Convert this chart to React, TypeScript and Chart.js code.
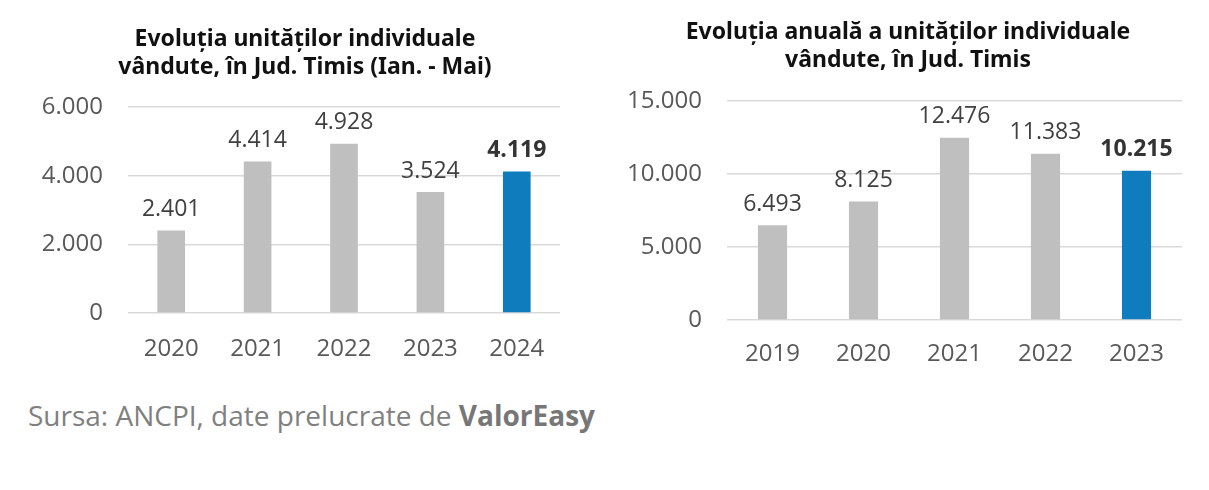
import React, { useEffect, useRef } from "react";
import { Chart, registerables } from "chart.js";

Chart.register(...registerables);

const leftCategories = ["2020", "2021", "2022", "2023", "2024"];
const leftValues = [2401, 4414, 4928, 3524, 4119];
const leftTicks = [0, 2000, 4000, 6000];

const rightCategories = ["2019", "2020", "2021", "2022", "2023"];
const rightValues = [6493, 8125, 12476, 11383, 10215];
const rightTicks = [0, 5000, 10000, 15000];

const leftTitle = ["Evoluția unităților individuale", "vândute, în Jud. Timis (Ian. - Mai)"];
const rightTitle = ["Evoluția anuală a unităților individuale", "vândute, în Jud. Timis"];

const GRAY = "#bfbfbf";
const BLUE = "#0f7dbd";
const TICK_FONT = "'Open Sans', sans-serif";
const TITLE_FONT = "'Noto Sans', sans-serif";

function fmt(v: number): string {
  const s = Math.round(v).toString();
  return s.replace(/\B(?=(\d{3})+(?!\d))/g, ".");
}

const labelPlugin = {
  id: "barLabels",
  afterDatasetsDraw(chart: any) {
    const ctx = chart.ctx;
    const meta = chart.getDatasetMeta(0);
    const data = chart.data.datasets[0].data as number[];
    const n = data.length;
    meta.data.forEach((el: any, i: number) => {
      const last = i === n - 1;
      ctx.save();
      ctx.font = `${last ? "bold " : ""}23px ${TICK_FONT}`;
      ctx.fillStyle = last ? "#333333" : "#404040";
      ctx.textAlign = "center";
      ctx.textBaseline = "middle";
      ctx.fillText(fmt(data[i]), el.x, el.y - 21);
      ctx.restore();
    });
  },
};

type Cfg = {
  categories: string[];
  values: number[];
  ticks: number[];
  yWidth: number;
  padRight: number;
  padTop: number;
  xHeight: number;
  xPad: number;
};

function makeChart(canvas: HTMLCanvasElement, c: Cfg) {
  const max = c.ticks[c.ticks.length - 1];
  const step = c.ticks[1] - c.ticks[0];
  return new Chart(canvas, {
    type: "bar",
    data: {
      labels: c.categories,
      datasets: [
        {
          data: c.values,
          backgroundColor: c.values.map((_, i) => (i === c.values.length - 1 ? BLUE : GRAY)),
          barPercentage: 0.32,
          categoryPercentage: 1,
        },
      ],
    },
    options: {
      animation: false,
      responsive: false,
      maintainAspectRatio: false,
      layout: { padding: { left: 0, right: c.padRight, top: c.padTop, bottom: 0 } },
      plugins: { legend: { display: false }, tooltip: { enabled: false }, title: { display: false } },
      scales: {
        x: {
          grid: { display: false },
          border: { display: false },
          ticks: { color: "#595959", font: { family: TICK_FONT, size: 24 }, padding: c.xPad },
          afterFit: (s: any) => {
            s.height = c.xHeight;
          },
        },
        y: {
          min: 0,
          max,
          grid: { color: "#d9d9d9", lineWidth: 1.5, drawTicks: false },
          border: { display: false },
          ticks: {
            stepSize: step,
            color: "#595959",
            font: { family: TICK_FONT, size: 24 },
            padding: 25,
            callback: (v: any) => fmt(Number(v)),
          },
          afterFit: (s: any) => {
            s.width = c.yWidth;
          },
        },
      },
    },
    plugins: [labelPlugin],
  } as any);
}

function BarPanel(props: { cfg: Cfg; width: number; height: number; left: number }) {
  const ref = useRef<HTMLCanvasElement>(null);
  useEffect(() => {
    if (!ref.current) return;
    const ch = makeChart(ref.current, props.cfg);
    return () => ch.destroy();
  }, []);
  return (
    <canvas
      ref={ref}
      width={props.width}
      height={props.height}
      style={{ position: "absolute", left: props.left, top: 0, width: props.width, height: props.height }}
    />
  );
}

function Title(props: { lines: string[]; cx: number; top: number }) {
  return (
    <div
      style={{
        position: "absolute",
        left: props.cx - 300,
        width: 600,
        top: props.top,
        textAlign: "center",
        fontFamily: TITLE_FONT,
        fontWeight: 700,
        fontSize: 23,
        lineHeight: "28px",
        color: "#111111",
      }}
    >
      {props.lines.map((l, i) => (
        <div key={i}>{l}</div>
      ))}
    </div>
  );
}

export default function App() {
  return (
    <div style={{ position: "absolute", left: 0, top: 0, width: 1209, height: 490, background: "#fff", overflow: "hidden" }}>
      <BarPanel
        left={0}
        width={600}
        height={380}
        cfg={{ categories: leftCategories, values: leftValues, ticks: leftTicks, yWidth: 128, padRight: 40, padTop: 107, xHeight: 67, xPad: 14 }}
      />
      <BarPanel
        left={600}
        width={609}
        height={390}
        cfg={{ categories: rightCategories, values: rightValues, ticks: rightTicks, yWidth: 127, padRight: 27, padTop: 101, xHeight: 70, xPad: 12 }}
      />
      <Title lines={leftTitle} cx={305} top={23} />
      <Title lines={rightTitle} cx={908} top={16} />
      <div
        style={{
          position: "absolute",
          left: 28,
          top: 397,
          fontFamily: TICK_FONT,
          fontSize: 28,
          lineHeight: "36px",
          color: "#808080",
          whiteSpace: "nowrap",
        }}
      >
        Sursa: ANCPI, date prelucrate de <b style={{ color: "#777777" }}>ValorEasy</b>
      </div>
    </div>
  );
}
